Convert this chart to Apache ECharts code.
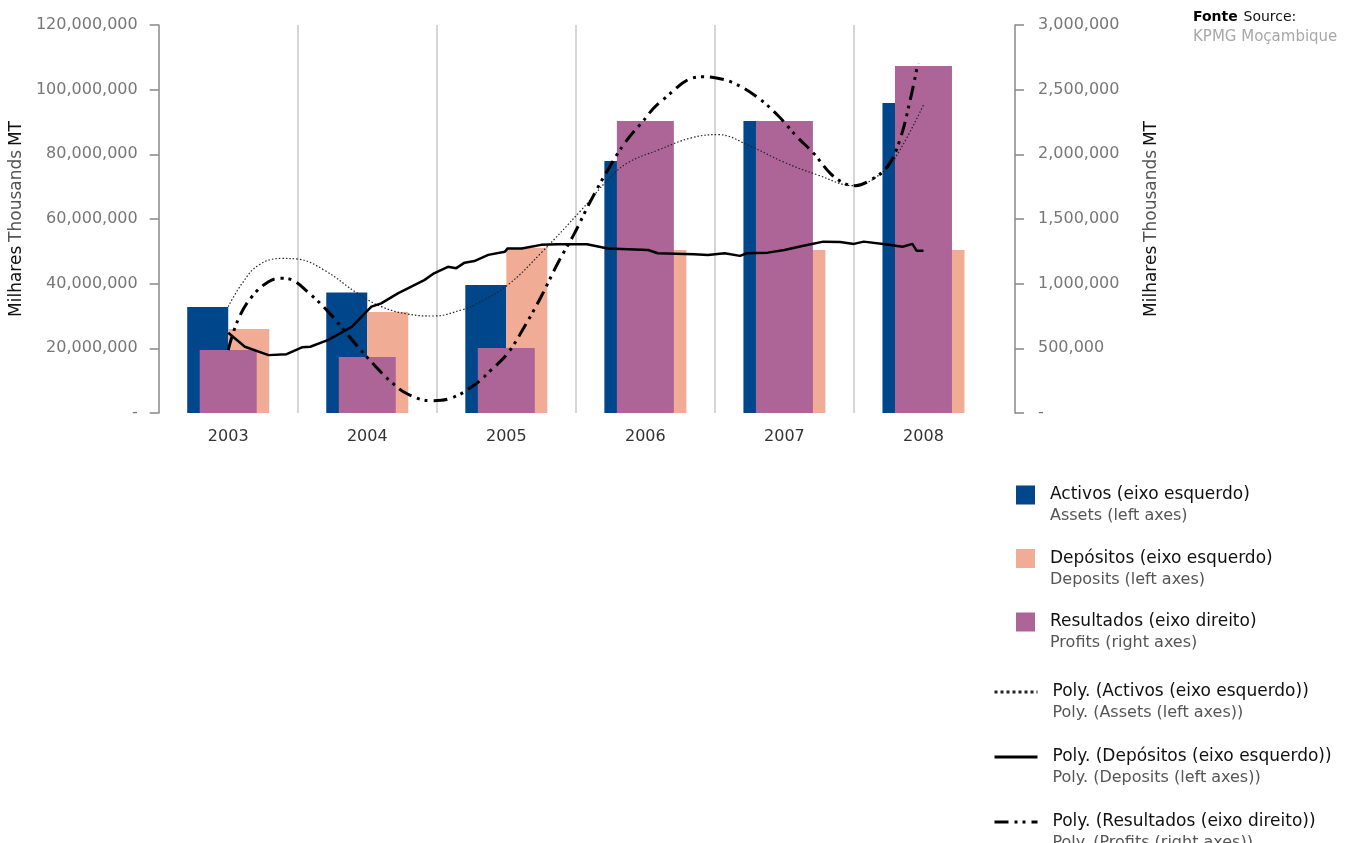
<!DOCTYPE html>
<html>
<head>
<meta charset="utf-8">
<title>Activos, Depósitos e Resultados</title>
<script src="https://cdn.jsdelivr.net/npm/echarts@6/dist/echarts.min.js"></script>
<style>
  html, body { margin: 0; padding: 0; background: #fff; }
  #chart { width: 1354px; height: 843px; }
</style>
</head>
<body>
<div id="chart"></div>
<script>
// categories and bar values
var years = ['2003', '2004', '2005', '2006', '2007', '2008'];
var activos = [32800000, 37300000, 39600000, 77900000, 90300000, 95900000];
var depositos = [26000000, 31200000, 51100000, 50400000, 50400000, 50400000];
var resultados = [487000, 433000, 503000, 2258000, 2258000, 2683000];

// trend lines: [position on year scale, value]
var polyActivos = [
  [2003.00, 32900000], [2003.10, 40100000], [2003.22, 45800000], [2003.38, 47800000],
  [2003.50, 47600000], [2003.69, 44200000], [2003.93, 37000000], [2004.10, 32900000],
  [2004.29, 30600000], [2004.48, 30000000], [2004.68, 31900000], [2004.77, 33400000],
  [2005.01, 39600000], [2005.25, 49500000], [2005.54, 62800000], [2005.73, 72100000],
  [2005.87, 77300000], [2006.09, 81300000], [2006.33, 85100000], [2006.52, 86100000],
  [2006.76, 82400000], [2006.99, 77700000], [2007.24, 73600000], [2007.50, 70300000],
  [2007.71, 74600000], [2007.83, 81300000], [2008.00, 95300000]
];
var polyDepositos = [
  [2003.00, 24800000], [2003.12, 20500000], [2003.29, 17900000], [2003.42, 18200000],
  [2003.53, 20300000], [2003.59, 20500000], [2003.72, 22600000], [2003.89, 26700000],
  [2004.03, 32900000], [2004.10, 33900000], [2004.22, 37000000], [2004.41, 41100000],
  [2004.48, 43200000], [2004.58, 45200000], [2004.64, 44800000], [2004.70, 46500000],
  [2004.77, 47000000], [2004.87, 48900000], [2004.99, 49900000], [2005.01, 50900000],
  [2005.11, 50900000], [2005.25, 52000000], [2005.37, 52200000], [2005.58, 52200000],
  [2005.73, 50900000], [2006.02, 50400000], [2006.09, 49400000], [2006.35, 49100000],
  [2006.45, 48900000], [2006.57, 49400000], [2006.68, 48600000], [2006.73, 49400000],
  [2006.88, 49600000], [2007.00, 50400000], [2007.12, 51600000], [2007.28, 53000000],
  [2007.40, 52900000], [2007.50, 52300000], [2007.57, 53000000], [2007.71, 52300000],
  [2007.85, 51400000], [2007.92, 52300000], [2007.95, 50200000], [2008.00, 50200000]
];
var polyResultados = [
  [2003.00, 487000], [2003.07, 719000], [2003.17, 899000], [2003.29, 1015000],
  [2003.38, 1042000], [2003.46, 1028000], [2003.57, 938000], [2003.72, 782000],
  [2003.91, 540000], [2004.05, 371000], [2004.17, 242000], [2004.29, 147000],
  [2004.46, 95000], [2004.60, 114000], [2004.77, 217000], [2004.89, 332000],
  [2005.01, 462000], [2005.13, 667000], [2005.25, 899000], [2005.37, 1158000],
  [2005.49, 1389000], [2005.61, 1647000], [2005.73, 1879000], [2005.85, 2085000],
  [2005.97, 2240000], [2006.11, 2407000], [2006.40, 2600000], [2006.52, 2588000],
  [2006.64, 2549000], [2006.80, 2446000], [2006.95, 2304000], [2007.09, 2136000],
  [2007.21, 2008000], [2007.33, 1853000], [2007.43, 1776000], [2007.51, 1758000],
  [2007.62, 1802000], [2007.74, 1904000], [2007.83, 2111000], [2007.91, 2446000],
  [2007.96, 2706000]
];

// legend labels
var barNames = ['Activos (eixo esquerdo)', 'Depósitos (eixo esquerdo)', 'Resultados (eixo direito)'];
var lineNames = ['Poly. (Activos (eixo esquerdo))', 'Poly. (Depósitos (eixo esquerdo))', 'Poly. (Resultados (eixo direito))'];
var barNamesEn = ['Assets (left axes)', 'Deposits (left axes)', 'Profits (right axes)'];
var lineNamesEn = ['Poly. (Assets (left axes))', 'Poly. (Deposits (left axes))', 'Poly. (Profits (right axes))'];

var font = 'DejaVu Sans';
var enOf = {};
barNames.forEach(function (n, i) { enOf[n] = barNamesEn[i]; });
lineNames.forEach(function (n, i) { enOf[n] = lineNamesEn[i]; });

function numLabel(v) {
  return v === 0 ? '-' : v.toLocaleString('en-US');
}
function legendText(name) {
  return '{e| }\n{a|' + name + '}\n{b|' + enOf[name] + '}';
}
var legendRich = {
  e: { fontSize: 12, lineHeight: 21 },
  a: { fontFamily: font, fontSize: 17, color: '#111', lineHeight: 21, padding: [0, 0, 0, 10] },
  b: { fontFamily: font, fontSize: 16, color: '#555', lineHeight: 21, padding: [0, 0, 0, 10] }
};
var nameRich = {
  a: { fontFamily: font, fontSize: 17, color: '#111' },
  b: { fontFamily: font, fontSize: 17, color: '#555' }
};

var myChart = echarts.init(document.getElementById('chart'));

var option = {
  animation: false,
  textStyle: { fontFamily: font },
  title: {
    left: 1188,
    top: 2,
    text: '{f|Fonte} {s|Source:}\n{k|KPMG Moçambique}',
    textStyle: {
      fontWeight: 'normal',
      rich: {
        f: { fontFamily: font, fontSize: 14, fontWeight: 'bold', color: '#000', lineHeight: 20 },
        s: { fontFamily: font, fontSize: 14, fontWeight: 'normal', color: '#111', lineHeight: 20 },
        k: { fontFamily: font, fontSize: 15, fontWeight: 'normal', color: '#a8a8a8', lineHeight: 20 }
      }
    }
  },
  grid: { left: 157, right: 361, top: 25, bottom: 430 },
  legend: [
    {
      orient: 'vertical',
      left: 1016,
      top: 468,
      padding: 0,
      itemWidth: 19,
      itemHeight: 19,
      itemGap: 7.5,
      icon: 'rect',
      selectedMode: false,
      data: barNames,
      formatter: legendText,
      textStyle: { rich: legendRich }
    },
    {
      orient: 'vertical',
      left: 993,
      top: 665,
      height: 300,
      padding: 0,
      itemWidth: 43,
      itemHeight: 14,
      itemGap: 9,
      selectedMode: false,
      data: [
        { name: lineNames[0], itemStyle: { opacity: 0 }, lineStyle: { width: 3, type: [3, 3] } },
        { name: lineNames[1], itemStyle: { opacity: 0 }, lineStyle: { width: 3 } },
        { name: lineNames[2], itemStyle: { opacity: 0 }, lineStyle: { width: 3 } }
      ],
      formatter: legendText,
      textStyle: { rich: legendRich }
    }
  ],
  xAxis: [
    {
      type: 'category',
      data: years,
      axisLine: { show: false },
      axisTick: { show: false },
      axisLabel: { fontFamily: font, fontSize: 16, color: '#333', margin: 16 },
      splitLine: {
        show: true,
        showMinLine: false,
        showMaxLine: false,
        lineStyle: { color: '#c8c8c8', width: 1.5 }
      }
    },
    { type: 'category', data: years, show: false },
    { type: 'value', min: 2002.5, max: 2008.5, show: false }
  ],
  yAxis: [
    {
      type: 'value',
      position: 'left',
      min: 0,
      max: 120000000,
      interval: 20000000,
      name: '{a|Milhares} {b|Thousands} {a|MT}',
      nameLocation: 'middle',
      nameRotate: 90,
      nameGap: 126,
      nameTextStyle: { rich: nameRich },
      axisLine: { show: true, lineStyle: { color: '#888', width: 1.5 } },
      axisTick: { show: true, length: 9, lineStyle: { color: '#888', width: 1.5 } },
      axisLabel: { fontFamily: font, fontSize: 16, color: '#777', margin: 21, formatter: numLabel },
      splitLine: { show: false }
    },
    {
      type: 'value',
      position: 'right',
      offset: 22,
      min: 0,
      max: 3000000,
      interval: 500000,
      name: '{a|Milhares} {b|Thousands} {a|MT}',
      nameLocation: 'middle',
      nameRotate: 90,
      nameGap: 128,
      nameTextStyle: { rich: nameRich },
      axisLine: { show: true, lineStyle: { color: '#888', width: 1.5 } },
      axisTick: { show: true, length: 9, lineStyle: { color: '#888', width: 1.5 } },
      axisLabel: { fontFamily: font, fontSize: 16, color: '#777', margin: 23, formatter: numLabel },
      splitLine: { show: false }
    }
  ],
  series: [
    {
      name: barNames[0],
      type: 'bar',
      xAxisIndex: 0,
      yAxisIndex: 0,
      barWidth: 41,
      barGap: '0%',
      itemStyle: { color: '#00468B' },
      data: activos
    },
    {
      name: barNames[1],
      type: 'bar',
      xAxisIndex: 0,
      yAxisIndex: 0,
      barWidth: 41,
      barGap: '0%',
      itemStyle: { color: '#F0AC95' },
      data: depositos
    },
    {
      name: barNames[2],
      type: 'bar',
      xAxisIndex: 1,
      yAxisIndex: 1,
      barWidth: 57,
      itemStyle: { color: '#AD6598' },
      data: resultados
    },
    {
      name: lineNames[0],
      type: 'line',
      xAxisIndex: 2,
      yAxisIndex: 0,
      symbol: 'none',
      smooth: 0.4,
      itemStyle: { color: '#222' },
      lineStyle: { color: '#222', width: 1.2, type: [1.5, 2] },
      data: polyActivos
    },
    {
      name: lineNames[1],
      type: 'line',
      xAxisIndex: 2,
      yAxisIndex: 0,
      symbol: 'none',
      itemStyle: { color: '#000' },
      lineStyle: { color: '#000', width: 2.5 },
      data: polyDepositos
    },
    {
      name: lineNames[2],
      type: 'line',
      xAxisIndex: 2,
      yAxisIndex: 1,
      symbol: 'none',
      smooth: 0.4,
      itemStyle: { color: '#000' },
      lineStyle: { color: '#000', width: 3, type: [14, 6, 3, 5, 3, 6] },
      data: polyResultados
    }
  ]
};

myChart.setOption(option);
</script>
</body>
</html>
